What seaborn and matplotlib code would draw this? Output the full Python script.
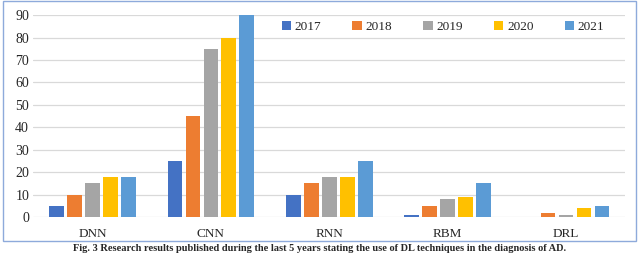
import pandas as pd
import matplotlib.pyplot as plt
import matplotlib.patches as mpatches
import seaborn as sns

sns.set_theme(style='white')
plt.rcParams['font.family'] = ['Liberation Serif', 'DejaVu Serif']

# datos
techniques = ['DNN', 'CNN', 'RNN', 'RBM', 'DRL']
years = ['2017', '2018', '2019', '2020', '2021']
v2017 = [5, 25, 10, 1, 0]
v2018 = [10, 45, 15, 5, 2]
v2019 = [15, 75, 18, 8, 1]
v2020 = [18, 80, 18, 9, 4]
v2021 = [18, 90, 25, 15, 5]
colors = ['#4472C4', '#ED7D31', '#A5A5A5', '#FFC000', '#5B9BD5']
caption = 'Fig. 3 Research results published during the last 5 years stating the use of DL techniques in the diagnosis of AD.'

rows = []
for year, vals in zip(years, [v2017, v2018, v2019, v2020, v2021]):
	for tech, v in zip(techniques, vals):
		rows.append({'technique': tech, 'year': year, 'count': v})
df = pd.DataFrame(rows)

fig = plt.figure(figsize=(6.4, 2.56), dpi=100)
ax = fig.add_axes([0.052, 0.152, 0.925, 0.789])

sns.barplot(data=df, x='technique', y='count', hue='year', order=techniques, hue_order=years,
			palette=colors, width=0.76, gap=0.18, linewidth=0, saturation=1, ax=ax)

ax.set_ylim(0, 90)
ax.set_yticks(range(0, 91, 10))
ax.yaxis.grid(True, color='#D9D9D9', linewidth=0.9)
ax.set_axisbelow(True)
for s in ax.spines.values():
	s.set_visible(False)
ax.tick_params(axis='both', length=0)
ax.tick_params(axis='y', labelsize=10, pad=3)
ax.tick_params(axis='x', labelsize=9.5, pad=8)
ax.set_xlabel('')
ax.set_ylabel('')

ax.legend(ncol=5, loc='upper right', bbox_to_anchor=(0.985, 1.03), frameon=False, fontsize=9.5,
		  handlelength=0.7, handleheight=0.7, handletextpad=0.3, columnspacing=2.35)

# marco alrededor del grafico
fig.patches.append(mpatches.Rectangle((0.004, 0.06), 0.99, 0.935, transform=fig.transFigure,
									  fill=False, edgecolor='#8EAADB', linewidth=1))

fig.text(0.5, 0.028, caption, ha='center', va='center', fontsize=7.5, fontweight='bold')

plt.savefig('out.png', dpi=100)
